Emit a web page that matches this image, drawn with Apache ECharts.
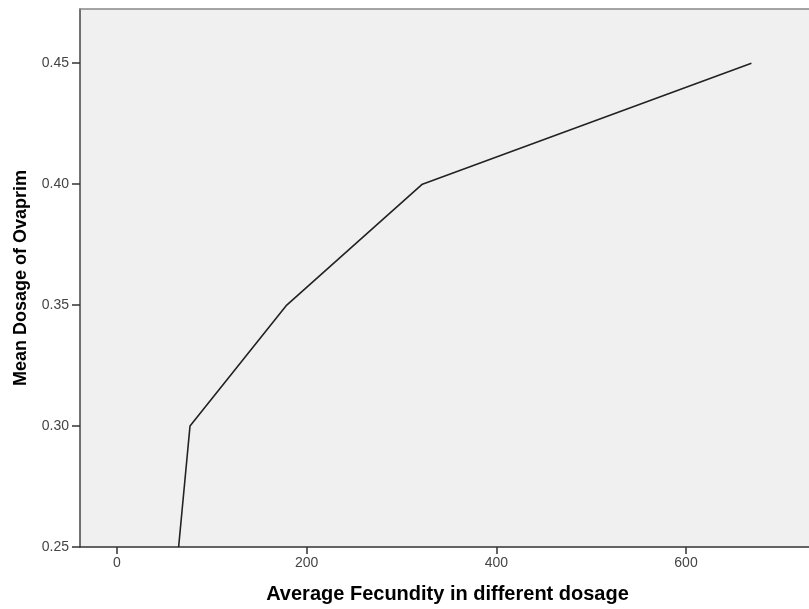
<!DOCTYPE html>
<html>
<head>
<meta charset="utf-8">
<script src="https://cdn.jsdelivr.net/npm/echarts@6/dist/echarts.min.js"></script>
<style>
html,body{margin:0;padding:0;background:#fff;}
#chart{width:809px;height:609px;}
</style>
</head>
<body>
<div id="chart"></div>
<script>
// Data
const fecundity = [65, 77, 179, 322, 669];
const dosage = [0.25, 0.30, 0.35, 0.40, 0.45];
const xTicks = [0, 200, 400, 600];
const yTicks = [0.25, 0.30, 0.35, 0.40, 0.45];
const xTitle = 'Average Fecundity in different dosage';
const yTitle = 'Mean Dosage of Ovaprim';

const points = fecundity.map((x, i) => [x, dosage[i]]);

const chart = echarts.init(document.getElementById('chart'), null, {renderer: 'canvas'});
chart.setOption({
  animation: false,
  backgroundColor: '#ffffff',
  grid: {
    left: 80, top: 9, right: 0, bottom: 60,
    show: true, backgroundColor: '#f0f0f0', borderWidth: 0
  },
  xAxis: [{
    type: 'value', min: -39, max: 729.7, position: 'bottom',
    name: xTitle, nameLocation: 'middle', nameGap: 37,
    nameTextStyle: {fontFamily: 'Liberation Sans', fontWeight: 'bold', fontSize: 20, color: '#000', padding: [0, 0, 0, 6]},
    axisLine: {show: true, onZero: false, lineStyle: {color: '#333', width: 1.5}},
    axisTick: {show: true, length: 7, customValues: xTicks, lineStyle: {color: '#333', width: 1.5}},
    axisLabel: {customValues: xTicks, margin: 9, fontFamily: 'Liberation Sans', fontSize: 14, color: '#444'},
    splitLine: {show: false}
  }, {
    type: 'value', min: -39, max: 729.7, position: 'top',
    axisLine: {show: true, onZero: false, lineStyle: {color: '#888', width: 1.5}},
    axisTick: {show: false}, axisLabel: {show: false}, splitLine: {show: false}
  }],
  yAxis: {
    type: 'value', min: 0.25, max: 0.4724,
    name: yTitle, nameLocation: 'middle', nameGap: 50,
    nameTextStyle: {fontFamily: 'Liberation Sans', fontWeight: 'bold', fontSize: 18, color: '#000'},
    axisLine: {show: true, onZero: false, lineStyle: {color: '#444', width: 1.5}},
    axisTick: {show: true, length: 8, customValues: yTicks, lineStyle: {color: '#333', width: 1.5}},
    axisLabel: {customValues: yTicks, margin: 11, fontFamily: 'Liberation Sans', fontSize: 14, color: '#444',
      formatter: v => v.toFixed(2)},
    splitLine: {show: false}
  },
  series: [{
    type: 'line', data: points, showSymbol: false, symbol: 'none',
    xAxisIndex: 0,
    lineStyle: {color: '#222', width: 1.6}, clip: true
  }]
});
</script>
</body>
</html>
